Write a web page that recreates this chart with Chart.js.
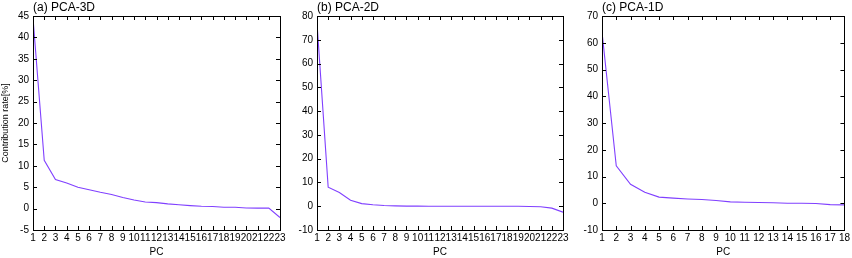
<!DOCTYPE html>
<html>
<head>
<meta charset="utf-8">
<script src="https://cdn.jsdelivr.net/npm/chart.js@4.4.0/dist/chart.umd.min.js"></script>
<style>
  html, body { margin: 0; padding: 0; background: #fff; }
  body { width: 852px; height: 258px; position: relative; overflow: hidden; }
  .panel { position: absolute; top: 0; height: 258px; }
  #boxA { left: 0; width: 290px; }
  #boxB { left: 288px; width: 285px; }
  #boxC { left: 573px; width: 279px; }
</style>
</head>
<body>
<div class="panel" id="boxA"><canvas id="chartA"></canvas></div>
<div class="panel" id="boxB"><canvas id="chartB"></canvas></div>
<div class="panel" id="boxC"><canvas id="chartC"></canvas></div>
<script>
// principal components (x) and contribution rate [%] (y)
const pcA = [1, 2, 3, 4, 5, 6, 7, 8, 9, 10, 11, 12, 13, 14, 15, 16, 17, 18, 19, 20, 21, 22, 23];
const rateA = [44.5, 11.3, 6.8, 6.0, 5.0, 4.4, 3.8, 3.3, 2.6, 2.0, 1.55, 1.4, 1.1, 0.9, 0.7, 0.55, 0.5, 0.3, 0.3, 0.15, 0.1, 0.1, -2.1];

const pcB = [1, 2, 3, 4, 5, 6, 7, 8, 9, 10, 11, 12, 13, 14, 15, 16, 17, 18, 19, 20, 21, 22, 23];
const rateB = [77, 8.0, 5.8, 2.5, 1.1, 0.6, 0.3, 0.15, 0.05, 0.05, 0.0, 0.0, 0.0, 0.0, 0.0, 0.0, 0.0, 0.0, 0.0, -0.1, -0.2, -0.8, -2.5];

const pcC = [1, 2, 3, 4, 5, 6, 7, 8, 9, 10, 11, 12, 13, 14, 15, 16, 17, 18];
const rateC = [64, 14.0, 7.1, 4.1, 2.3, 1.9, 1.6, 1.4, 1.0, 0.5, 0.4, 0.3, 0.2, 0.0, 0.0, -0.1, -0.5, -0.6];

const lineColor = "#8040ff";
const fontFamily = "'Liberation Sans', Arial, sans-serif";

// gnuplot-like frame with inward ticks on all four sides
const frameTicks = {
  id: "frameTicks",
  afterDraw(chart) {
    const ctx = chart.ctx;
    const a = chart.chartArea;
    const xs = chart.scales.x;
    const ys = chart.scales.y;
    const len = 4;
    ctx.save();
    ctx.strokeStyle = "#000";
    ctx.lineWidth = 1;
    ctx.beginPath();
    xs.ticks.forEach((t) => {
      const px = Math.round(xs.getPixelForValue(t.value)) + 0.5;
      ctx.moveTo(px, a.bottom);
      ctx.lineTo(px, a.bottom - len);
      ctx.moveTo(px, a.top);
      ctx.lineTo(px, a.top + len);
    });
    ys.ticks.forEach((t) => {
      const py = Math.round(ys.getPixelForValue(t.value)) + 0.5;
      ctx.moveTo(a.left, py);
      ctx.lineTo(a.left + len, py);
      ctx.moveTo(a.right, py);
      ctx.lineTo(a.right - len, py);
    });
    ctx.stroke();
    ctx.strokeRect(Math.round(a.left) + 0.5, Math.round(a.top) + 0.5,
      Math.round(a.right - a.left), Math.round(a.bottom - a.top));
    ctx.restore();
  },
};

function makeChart(id, title, pcs, rates, yMin, yMax, yStep, yWidth, padRight, yTitle) {
  const points = pcs.map((pc, i) => ({ x: pc, y: rates[i] }));
  return new Chart(document.getElementById(id), {
    type: "line",
    data: {
      datasets: [
        {
          data: points,
          borderColor: lineColor,
          borderWidth: 1.1,
          pointRadius: 0,
          tension: 0,
          fill: false,
        },
      ],
    },
    options: {
      responsive: true,
      maintainAspectRatio: false,
      animation: false,
      events: [],
      layout: { padding: { top: 0, right: padRight, bottom: 0, left: 0 } },
      plugins: {
        legend: { display: false },
        tooltip: { enabled: false },
        title: {
          display: true,
          text: title,
          align: "start",
          fullSize: false,
          color: "#000",
          font: { family: fontFamily, size: 12, weight: "normal" },
          padding: { top: 0, bottom: 1.6 },
        },
      },
      scales: {
        x: {
          type: "linear",
          min: pcs[0],
          max: pcs[pcs.length - 1],
          grid: { display: false, drawTicks: false },
          border: { display: false },
          ticks: {
            stepSize: 1,
            autoSkip: false,
            maxRotation: 0,
            padding: 2,
            color: "#000",
            font: { family: fontFamily, size: 10 },
          },
          title: {
            display: true,
            text: "PC",
            color: "#000",
            font: { family: fontFamily, size: 10 },
            padding: { top: 0, bottom: 0 },
          },
          afterFit: (scale) => {
            scale.height = 28;
          },
        },
        y: {
          min: yMin,
          max: yMax,
          grid: { display: false, drawTicks: false },
          border: { display: false },
          ticks: {
            stepSize: yStep,
            padding: 4,
            color: "#000",
            font: { family: fontFamily, size: 10 },
          },
          title: {
            display: yTitle !== "",
            text: yTitle,
            color: "#000",
            font: { family: fontFamily, size: 9 },
            padding: 0,
          },
          afterFit: (scale) => {
            scale.width = yWidth;
          },
        },
      },
    },
    plugins: [frameTicks],
  });
}

makeChart("chartA", "(a) PCA-3D", pcA, rateA, -5, 45, 5, 33, 10, "Contribution rate[%]");
makeChart("chartB", "(b) PCA-2D", pcB, rateB, -10, 80, 10, 29, 10, "");
makeChart("chartC", "(c) PCA-1D", pcC, rateC, -10, 70, 10, 29, 4, "");
</script>
</body>
</html>
